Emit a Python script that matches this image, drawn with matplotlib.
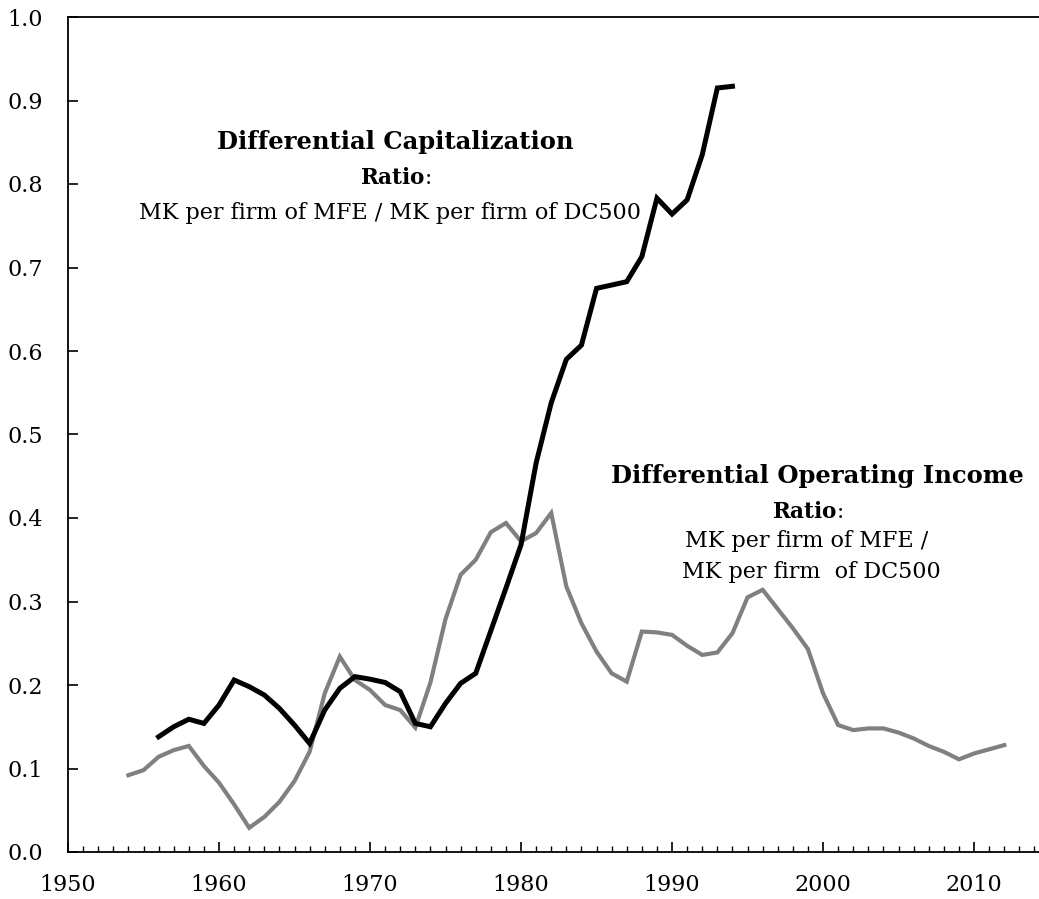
import matplotlib
matplotlib.use("Agg")
import matplotlib.pyplot as plt
from matplotlib.ticker import MultipleLocator, FormatStrFormatter

cap_years = list(range(1956, 1995))
cap_ratio = [0.138, 0.150, 0.159, 0.154, 0.176, 0.206, 0.198, 0.188, 0.172, 0.152,
             0.130, 0.170, 0.196, 0.210, 0.207, 0.203, 0.192, 0.154, 0.150, 0.178,
             0.202, 0.214, 0.265, 0.316, 0.368, 0.466, 0.538, 0.590, 0.607, 0.675,
             0.679, 0.683, 0.713, 0.783, 0.764, 0.781, 0.835, 0.915, 0.917]

inc_years = list(range(1954, 2013))
inc_ratio = [0.092, 0.098, 0.114, 0.122, 0.127, 0.103, 0.083, 0.057, 0.029, 0.042,
             0.060, 0.085, 0.120, 0.190, 0.234, 0.206, 0.194, 0.176, 0.170, 0.149,
             0.203, 0.279, 0.332, 0.350, 0.383, 0.394, 0.372, 0.382, 0.406, 0.318,
             0.274, 0.240, 0.214, 0.204, 0.264, 0.263, 0.260, 0.247, 0.236, 0.239,
             0.262, 0.305, 0.314, 0.291, 0.268, 0.243, 0.190, 0.152, 0.146, 0.148,
             0.148, 0.143, 0.136, 0.127, 0.120, 0.111, 0.118, 0.123, 0.128]

serif = "DejaVu Serif"
plt.rcParams['font.family'] = serif
plt.rcParams['mathtext.fontset'] = 'dejavuserif'

fig = plt.figure(figsize=(10.39, 8.99), dpi=100)
ax = fig.add_axes([68/1039, 47/899, 1 - 68/1039, (852-17)/899])

ax.plot(inc_years, inc_ratio, color="#808080", lw=3.0, solid_joinstyle='miter')
ax.plot(cap_years, cap_ratio, color="black", lw=3.6, solid_joinstyle='miter')

ax.set_xlim(1950, 2014.3)
ax.set_ylim(0, 1.0)
ax.xaxis.set_major_locator(MultipleLocator(10))
ax.xaxis.set_minor_locator(MultipleLocator(1))
ax.yaxis.set_major_locator(MultipleLocator(0.1))
ax.yaxis.set_major_formatter(FormatStrFormatter('%.1f'))

ax.spines['right'].set_visible(False)
for s in ['left', 'bottom', 'top']:
    ax.spines[s].set_linewidth(1.3)

ax.tick_params(axis='x', which='major', direction='in', length=7, width=1.2,
               labelsize=16, pad=16)
ax.tick_params(axis='x', which='minor', direction='in', length=4, width=1.0)
ax.tick_params(axis='y', which='major', direction='in', length=7, width=1.2,
               labelsize=16, pad=18)

ax.text(1971.7, 0.850, "Differential Capitalization", fontsize=17.5, fontweight='bold',
        ha='center', va='center')
ax.text(1971.7, 0.807, r"$\mathbf{Ratio}$:", fontsize=15.5, ha='center', va='center')
ax.text(1971.3, 0.765, "MK per firm of MFE / MK per firm of DC500", fontsize=16,
        ha='center', va='center')

ax.text(1999.6, 0.450, "Differential Operating Income", fontsize=17.5, fontweight='bold',
        ha='center', va='center')
ax.text(1999.0, 0.407, r"$\mathbf{Ratio}$:", fontsize=15.5, ha='center', va='center')
ax.text(1998.9, 0.372, "MK per firm of MFE /", fontsize=16, ha='center', va='center')
ax.text(1999.2, 0.335, "MK per firm  of DC500", fontsize=16, ha='center', va='center')

fig.savefig("out.png", dpi=100)
